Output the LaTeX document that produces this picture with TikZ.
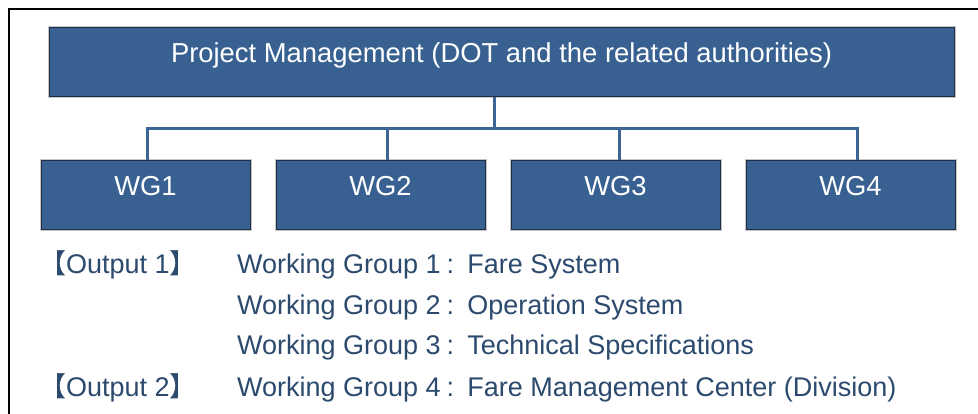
\documentclass[tikz,border=0pt]{standalone}
\usepackage{fontspec}
\setmainfont{Liberation Sans}
\newfontfamily\cjk{Noto Sans CJK SC}
\definecolor{boxblue}{HTML}{386192}
\definecolor{boxedge}{HTML}{1E2F45}
\definecolor{linkblue}{HTML}{3A6595}
\definecolor{txtblue}{HTML}{2C4A6E}
\begin{document}
\begin{tikzpicture}[x=1pt,y=-1pt,
  boxnode/.style={draw=boxedge, line width=0.9pt, fill=boxblue, inner sep=0pt,
    anchor=north west, preaction={draw=gray!45, line width=3pt}},
  wgbox/.style={boxnode, minimum width=209pt, minimum height=69pt},
  boxtext/.style={text=white, inner sep=0pt, anchor=base, font=\fontsize{27.4}{32}\selectfont},
  link/.style={draw=linkblue, line width=3pt},
  listtext/.style={text=txtblue, inner sep=0pt, anchor=base west, font=\fontsize{27}{32}\selectfont},
  frameline/.style={draw=black, line width=2.5pt}]
\useasboundingbox (0,0) rectangle (978,414);
\fill[white] (0,0) rectangle (978,414);
\draw[frameline] (978,9) -- (9,9) -- (9,414);

% top box
\node[boxnode, minimum width=905pt, minimum height=69pt] (top) at (49,27) {};
\node[boxtext] (toptext) at (501.5,63) {Project Management (DOT and the related authorities)};

% working group boxes
\node[wgbox] (wg1) at (41,160) {};
\node[wgbox] (wg2) at (276,160) {};
\node[wgbox] (wg3) at (511,160) {};
\node[wgbox] (wg4) at (746,160) {};
\node[boxtext] (wg1t) at (145.5,196) {WG1};
\node[boxtext] (wg2t) at (380.5,196) {WG2};
\node[boxtext] (wg3t) at (615.5,196) {WG3};
\node[boxtext] (wg4t) at (850.5,196) {WG4};

% connectors
\coordinate (j) at (494,129);
\coordinate (c1) at (149,129);
\coordinate (c2) at (387,129);
\coordinate (c3) at (619,129);
\coordinate (c4) at (856,129);
\draw[link] (top.south -| j) -- (j);
\draw[link] ([xshift=-1.5pt]c1 |- wg1.north) -- ([xshift=-1.5pt]c1) -- ([xshift=1.5pt]c4) -- ([xshift=1.5pt]c4 |- wg4.north);
\draw[link] (c2) -- (c2 |- wg2.north);
\draw[link] (c3) -- (c3 |- wg3.north);

% outputs list
\node[listtext] (o1) at (39,274) {{\cjk 【}Output 1{\cjk 】}};
\node[listtext] (o2) at (39,396) {{\cjk 【}Output 2{\cjk 】}};
\node[listtext] (l1) at (237,274) {Working Group 1\kern6pt:\kern13pt Fare System};
\node[listtext] (l2) at (237,315) {Working Group 2\kern6pt:\kern13pt Operation System};
\node[listtext] (l3) at (237,355) {Working Group 3\kern6pt:\kern13pt Technical Specifications};
\node[listtext] (l4) at (237,396) {Working Group 4\kern6pt:\kern13pt Fare Management Center (Division)};
\end{tikzpicture}
\end{document}
